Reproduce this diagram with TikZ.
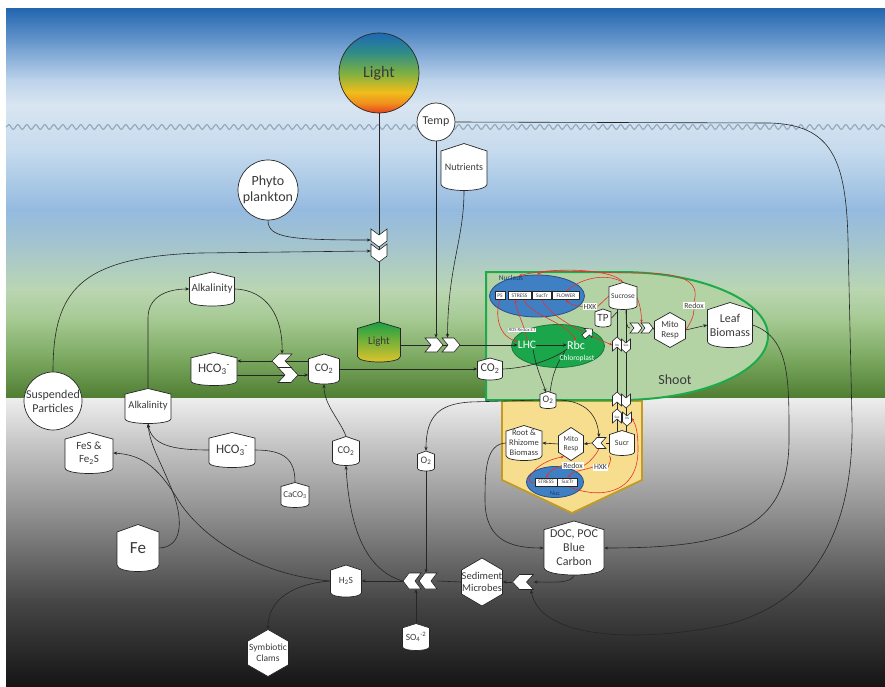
\documentclass[tikz,border=0pt]{standalone}
\usepackage{fontspec}
\setmainfont{Carlito}
\usetikzlibrary{arrows.meta,calc,decorations.pathmorphing,shapes.geometric}
\pgfdeclarelayer{bg}
\pgfdeclarelayer{lines}
\pgfsetlayers{bg,lines,main}
\definecolor{txt}{HTML}{3A3A3A}
\definecolor{edge}{HTML}{262626}
\definecolor{redl}{HTML}{E8302A}
\definecolor{wave}{HTML}{8FA7BC}
\definecolor{shootfill}{HTML}{B3D3A5}
\definecolor{shootline}{HTML}{1DAA4C}
\definecolor{rootfill}{HTML}{F7DE8E}
\definecolor{rootline}{HTML}{C39A24}
\definecolor{nucfill}{HTML}{3F80C4}
\definecolor{nucline}{HTML}{2A4E86}
\definecolor{nuctext}{HTML}{1E3C72}
\definecolor{chlfill}{HTML}{1BA64B}
\definecolor{chlline}{HTML}{147A37}
\definecolor{lhtop}{HTML}{1B9F45}
\definecolor{lhbot}{HTML}{E6C62A}
\definecolor{sr}{HTML}{E4401C}
\definecolor{so}{HTML}{F08E1E}
\definecolor{sy}{HTML}{F0BE1C}
\definecolor{sg}{HTML}{7DB042}
\definecolor{st}{HTML}{2F8C86}
\definecolor{sb}{HTML}{1D69B4}
\definecolor{w0}{HTML}{2366B0}
\definecolor{w1}{HTML}{6E9CCF}
\definecolor{w2}{HTML}{BCD3EA}
\definecolor{w3}{HTML}{D9E5F1}
\definecolor{w4}{HTML}{C6DBEE}
\definecolor{w5}{HTML}{94BADF}
\definecolor{w6}{HTML}{A6C6CC}
\definecolor{w7}{HTML}{BAD6B2}
\definecolor{w8}{HTML}{A5C992}
\definecolor{w9}{HTML}{79A75E}
\definecolor{w10}{HTML}{4D7C31}
\definecolor{s0}{HTML}{EDEDED}
\definecolor{s1}{HTML}{C9C9C9}
\definecolor{s2}{HTML}{8A8A8A}
\definecolor{s3}{HTML}{474747}
\definecolor{s4}{HTML}{141414}
\pgfdeclareverticalshading{sunshade}{100bp}{color(0bp)=(sr); color(25bp)=(sr); color(31bp)=(so); color(38bp)=(sy); color(50bp)=(sg); color(63bp)=(st); color(75bp)=(sb); color(100bp)=(sb)}
\newcommand\fs[1]{\fontsize{#1}{#1}\selectfont\baselineskip=1.17\baselineskip}
\newcommand\hsnode[8][]{%
  \begin{scope}[shift={(#3,#4)}]
    \pgfmathsetmacro\shW{#5/2}\pgfmathsetmacro\shH{#6/2}%
    \pgfmathsetmacro\shR{0.16*#6}\pgfmathsetmacro\shB{0.14*#6}%
    \path[shp,#1] (-\shW,{-\shH+\shR}) -- (0,-\shH) -- (\shW,{-\shH+\shR}) -- (\shW,{\shH-\shB})
      .. controls (\shW,{\shH+\shB/3}) and (-\shW,{\shH+\shB/3}) .. (-\shW,{\shH-\shB}) -- cycle;
  \end{scope}
  \node[lbl,minimum width=#5,minimum height=#6,font=\fs{#7}] (#2) at (#3,#4) {#8};}
\newcommand\hxnode[7]{%
  \begin{scope}[shift={(#2,#3)}]
    \pgfmathsetmacro\shW{#4/2}\pgfmathsetmacro\shH{#5/2}\pgfmathsetmacro\shQ{#5/4}%
    \path[shp] (0,-\shH) -- (\shW,-\shQ) -- (\shW,\shQ) -- (0,\shH) -- (-\shW,\shQ) -- (-\shW,-\shQ) -- cycle;
  \end{scope}
  \node[lbl,minimum width=#4,minimum height=#5,font=\fs{#6}] (#1) at (#2,#3) {#7};}
\newcommand\chv[6]{%
  \begin{scope}[shift={(#1,#2)},rotate=#5]
    \pgfmathsetmacro\cvL{#3/2}\pgfmathsetmacro\cvC{#4/2}%
    \path[shp,line width=0.6pt] (-\cvL,-\cvC) -- ({\cvL-#6},-\cvC) -- (\cvL,0) -- ({\cvL-#6},\cvC) -- (-\cvL,\cvC) -- ({-\cvL+#6},0) -- cycle;
  \end{scope}}
\begin{document}
\begin{tikzpicture}[x=1pt,y=-1pt,
  shp/.style={draw=edge,fill=white,line width=0.7pt},
  lbl/.style={inner sep=0pt,align=center,text=txt},
  inv/.style={inner sep=0pt,draw=none},
  ln/.style={draw=edge,line width=0.6pt},
  arr/.style={ln,-{Stealth[length=4pt,width=3.2pt]}},
  rln/.style={draw=redl,line width=0.6pt},
  rarr/.style={rln,-{Stealth[length=3.2pt,width=2.6pt]}},
  box/.style={draw=edge,fill=white,line width=0.4pt,inner sep=0pt,minimum height=8,text=txt,font=\fs{5.4}},
  tag/.style={fill=white,inner sep=1pt,text=txt},
  circ/.style={circle,draw=edge,fill=white,line width=0.7pt,inner sep=0pt,text=txt,align=center}]
\useasboundingbox (0,0) rectangle (885,687);
\begin{pgfonlayer}{bg}
\fill[white] (0,0) rectangle (885,687);
\foreach \ya/\yb/\ca/\cb in {9/45/w0/w1,45/80/w1/w2,80/105/w2/w3,105/150/w3/w4,150/210/w4/w5,210/250/w5/w6,250/290/w6/w7,290/320/w7/w8,320/360/w8/w9,360/399/w9/w10,399/440/s0/s1,440/520/s1/s2,520/600/s2/s3,600/687/s3/s4}
  \fill[top color=\ca,bottom color=\cb] (6,\ya-0.5) rectangle (885,\yb+0.5);
\draw[decorate,decoration={snake,amplitude=2.4pt,segment length=9pt},draw=wave,line width=1.1pt] (6,127) -- (885,127);
\path[fill=rootfill,draw=rootline,line width=1.8pt] (502,401) -- (642,401) -- (642,480) -- (572,513) -- (502,480) -- cycle;
\path[fill=shootfill,draw=shootline,line width=2pt] (486,272) -- (620,272) .. controls (701.7,272) and (768,300.7) .. (768,336) .. controls (768,371.3) and (701.7,400) .. (620,400) -- (486,400) -- cycle;
\node[ellipse,draw=nucline,fill=nucfill,line width=0.8pt,minimum width=95,minimum height=42] (nucS) at (537,296) {};
\node[ellipse,draw=chlline,fill=chlfill,line width=0.8pt,minimum width=93,minimum height=43] (chl) at (558,346) {};
\node[ellipse,draw=nucline,fill=nucfill,line width=0.8pt,minimum width=57,minimum height=31] (nucR) at (555,482) {};
\end{pgfonlayer}
% ---- sky and water column
\node[circ,shade,shading=sunshade,minimum size=80,font=\fs{16}] (Sun) at (379,73) {Light};
\node[circ,minimum size=38,font=\fs{12}] (T) at (436,122) {Temp};
\node[circ,minimum size=60,font=\fs{14}] (Ph) at (268,190) {Phyto\\plankton};
\node[circ,minimum size=58,font=\fs{12}] (SP) at (53,401) {Suspended\\Particles};
\hsnode{N}{464}{167}{46}{47}{10}{Nutrients}
\hsnode[top color=lhtop,bottom color=lhbot]{LH}{379}{342}{43}{40}{11}{Light}
\hsnode{AlkU}{212}{289}{45}{34}{11}{Alkalinity}
\hsnode{HCO3u}{214}{369}{46}{33}{13}{HCO\textsubscript{3}\textsuperscript{-}}
\hsnode{CO2m}{324}{369}{31}{30}{11.5}{CO\textsubscript{2}}
\hsnode{CO2s}{490}{369}{25}{22}{12}{CO\textsubscript{2}}
% chevrons
\chv{379}{238}{18}{16}{-90}{6}
\chv{379}{253}{18}{16}{-90}{6}
\node[inv,minimum width=16,minimum height=33] (chP) at (379,245.5) {};
\chv{434}{345}{18}{14}{0}{6}
\chv{451}{345}{18}{14}{0}{6}
\node[inv,minimum width=35,minimum height=14] (chL) at (442.5,345) {};
\chv{282}{361}{20}{14}{180}{7}
\node[inv,minimum width=20,minimum height=14] (cL) at (282,361) {};
\chv{288}{375}{20}{15}{0}{7}
\node[inv,minimum width=20,minimum height=15] (cR) at (288,375) {};
% ---- shoot
\node[lbl,text=white,font=\fs{11.5}] (LHC) at (527,345) {LHC};
\node[lbl,text=white,font=\fs{12}] (Rbc) at (576,345) {Rbc};
\node[lbl,text=white,font=\fs{7.5}] (chlbl) at (577,358) {Chloroplast};
\node[lbl,text=nuctext,font=\fs{7.5}] (nuclbl) at (511,278) {Nucleus};
\node[box,minimum width=10] (PSb) at (500,295.5) {PS};
\node[box,minimum width=23] (STb) at (519.5,295.5) {STRESS};
\node[box,minimum width=19] (SUb) at (542,295.5) {SucTr};
\node[box,minimum width=27] (FLb) at (566,295.5) {FLOWER};
\node[tag,font=\fs{4.8},inner sep=0.8pt] (ROS) at (522,330) {ROS Redox ET};
\hsnode{TP}{603}{318}{16}{18}{11}{TP}
\hsnode{Scr}{623}{296}{28}{27}{7.5}{Sucrose}
\node[tag,font=\fs{7.8}] (HXKs) at (590,306.5) {HXK};
\node[tag,font=\fs{7.8}] (RDs) at (694,305.5) {Redox};
\hxnode{MitoS}{670}{330}{31}{35}{9}{Mito\\Resp}
\hsnode{Leaf}{730}{325}{45}{45}{12}{Leaf\\Biomass}
\chv{636}{328}{12}{10}{0}{4}
\chv{647}{328}{12}{10}{0}{4}
\node[inv,minimum width=23,minimum height=10] (chS) at (641.5,328) {};
\begin{scope}[shift={(588,333)},rotate=40]
  \path[shp,line width=0.6pt] (-6,-2.5) -- (0,-2.5) -- (0,-6) -- (6,0) -- (0,6) -- (0,2.5) -- (-6,2.5) -- cycle;
\end{scope}
\node[lbl,font=\fs{14}] (shootlbl) at (675,380) {Shoot};
\hsnode{O2s}{548}{400}{16}{17}{10}{O\textsubscript{2}}
% sucrose transport markers
\chv{617}{344}{14}{9}{90}{4}
\node[inv,minimum width=9,minimum height=14,font=\fs{3.5},text=txt] (invS) at (617,345) {Inv};
\chv{626}{346}{14}{9}{-90}{4}
\node[inv,minimum width=9,minimum height=14,font=\fs{3.5},text=txt] (susS) at (626,345) {Sus};
\chv{617}{399}{14}{9}{90}{4}
\node[inv,minimum width=9,minimum height=14] (aU) at (617,399) {};
\chv{626}{401}{14}{9}{-90}{4}
\node[inv,minimum width=9,minimum height=14] (aD) at (626,401) {};
\chv{617}{416}{14}{9}{90}{4}
\node[inv,minimum width=9,minimum height=14,font=\fs{3.5},text=txt] (susR) at (617,417) {Sus};
\chv{627}{419}{14}{9}{-90}{4}
\node[inv,minimum width=9,minimum height=14,font=\fs{3.5},text=txt] (invR) at (627,418) {Inv};
% ---- root
\hsnode{Root}{524}{443}{36}{35}{8.5}{Root \&\\Rhizome\\Biomass}
\hxnode{MitoR}{571}{444}{25}{33}{7.5}{Mito\\Resp}
\chv{599}{443}{14}{11}{180}{5}
\node[inv,minimum width=14,minimum height=11] (chR) at (599,443) {};
\hsnode{Sucr}{622}{443}{25}{25}{8}{Sucr}
\node[tag,font=\fs{7.8}] (RDr) at (573,465.5) {Redox};
\node[tag,font=\fs{7.8}] (HXKr) at (600.5,467) {HXK};
\node[box,minimum width=22] (STr) at (546,482) {STRESS};
\node[box,minimum width=20] (SUr) at (567.5,482) {SucTr};
\node[lbl,text=nuctext,font=\fs{6.5}] (nuclblR) at (555,493) {Nuc};
% ---- sediment
\hsnode{DOC}{574}{548}{60}{54}{12}{DOC, POC\\Blue\\Carbon}
\hsnode{O2l}{426}{461}{17}{20}{10}{O\textsubscript{2}}
\hsnode{CO2l}{346}{451}{27}{29}{10.5}{CO\textsubscript{2}}
\hsnode{AlkL}{148}{406}{46}{35}{10.5}{Alkalinity}
\hsnode{HCO3l}{232}{450}{46}{35}{13}{HCO\textsubscript{3}\textsuperscript{-}}
\hsnode{CaCO3}{295}{495}{28}{25}{9}{CaCO\textsubscript{3}}
\hsnode{FeS}{89}{453}{48}{41}{11}{FeS \&\\Fe\textsubscript{2}S}
\hsnode{Fe}{138}{548}{42}{47}{17}{Fe}
\hsnode{H2S}{346}{581}{31}{32}{9.5}{H\textsubscript{2}S}
\hsnode{SO4}{416}{637}{27}{27}{9.5}{SO\textsubscript{4}\textsuperscript{-2}}
\hxnode{SM}{482}{582}{41}{48}{10.5}{Sediment\\Microbes}
\hxnode{SC}{268}{653}{41}{47}{9.5}{Symbiotic\\Clams}
\chv{523}{582}{21}{15}{180}{7}
\node[inv,minimum width=21,minimum height=15] (chSed) at (523,582) {};
\chv{412}{581}{18}{16}{180}{6}
\chv{428}{581}{18}{16}{180}{6}
\node[inv,minimum width=34,minimum height=16] (chB) at (420,581) {};
% ---- connectors
\begin{pgfonlayer}{lines}
\draw[ln] (Sun.south) -- (LH.north);
\draw[arr] (Ph.south) .. controls (268,238) and (290,240) .. ($(chP.west)+(0,-5.5)$);
\draw[arr] (SP.north) .. controls (53,290) and (80,257) .. (200,253) -- ($(chP.west)+(0,5.5)$);
\draw[arr] (T.south) -- (T.south |- chL.north);
\draw[arr] (N.south) .. controls (464,240) and (448,265) .. ($(chL.north)+(5,0)$);
\draw[arr] (LH.east |- chL.west) -- (LHC.west);
\draw[arr] (T.east) -- (770,123) .. controls (832,125) and (846,160) .. (848,240) -- (852,420) .. controls (854,520) and (820,605) .. (720,626) .. controls (640,642) and (540,640) .. ($(chSed.south)+(8,0)$);
\draw[arr] (AlkL.north) -- (148,318) .. controls (148,296) and (168,289) .. (AlkU.west);
\draw[arr] (AlkU.east) .. controls (268,290) and (283,318) .. (cL.north);
\draw[arr] (CO2m.west |- cL) -- (HCO3u.east |- cL);
\draw[arr] (HCO3u.east |- cR) -- (CO2m.west |- cR);
\draw[arr] (CO2m.east) -- (CO2s.west);
\draw[ln] (CO2s.east) .. controls (525,368) and (548,362) .. (Rbc.south west);
\draw[arr] (CO2l.north) .. controls (340,420) and (324,405) .. (CO2m.south);
\draw[arr] (LHC.east) -- (Rbc.west);
\draw[arr] ($(LHC.south)+(6,0)$) .. controls (536,368) and (542,380) .. ($(O2s.north)+(-2,1)$);
\draw[ln] ($(Rbc.south west)+(-2,2)$) .. controls (553,370) and (552,380) .. ($(O2s.north)+(2,1)$);
\draw[ln] ($(Scr.center)+(-6,0)$) -- ($(Sucr.center)+(-5,0)$);
\draw[ln] ($(Scr.center)+(3,0)$) -- ($(Sucr.center)+(4,0)$);
\draw[ln] ($(Scr.center)+(3,14)$) .. controls (626,324) and (627,328) .. (chS.west);
\draw[ln] (chS.east) -- (MitoS.west);
\draw[arr] (MitoS.east) -- (Leaf.west);
\draw[ln] (TP.east) .. controls (612,318) and (615,314) .. ($(Scr.center)+(-6,16)$);
\draw[arr] (Leaf.east) .. controls (790,338) and (789,380) .. (789,440) .. controls (789,530) and (730,548) .. (DOC.east);
\draw[arr] (O2s.west) -- (470,402) .. controls (440,404) and (426,415) .. (O2l.north);
\draw[arr] (O2s.east) .. controls (580,400) and (597,410) .. (chR.north);
\draw[ln] (Sucr.west) -- (chR.east);
\draw[arr] (chR.west) -- (MitoR.east);
\draw[arr] (MitoR.west) -- (Root.east);
\draw[arr] (Root.west) .. controls (486,444) and (485,470) .. (485,500) .. controls (485,540) and (510,548) .. (DOC.west);
\draw[arr] (DOC.south) .. controls (572,584) and (550,582) .. (chSed.east);
\draw[arr] (chSed.west) -- (SM.east);
\draw[ln] (SM.west) -- (chB.east);
\draw[arr] (chB.west) -- (H2S.east);
\draw[arr] (O2l.south) -- (O2l.south |- chB.north);
\draw[arr] (SO4.north) -- (SO4.north |- chB.south);
\draw[arr] (chB.west) .. controls (372,572) and (350,540) .. (CO2l.south);
\draw[arr] (H2S.west) .. controls (292,584) and (268,600) .. (SC.north);
\draw[arr] (H2S.west) .. controls (260,575) and (205,540) .. (180,503) .. controls (160,470) and (145,455) .. (FeS.east);
\draw[arr] (Fe.east) .. controls (185,547) and (182,515) .. (172,490) .. controls (160,460) and (150,445) .. (AlkL.south);
\draw[arr] (HCO3l.west) .. controls (172,450) and (152,445) .. (AlkL.south);
\draw[ln] (HCO3l.east) .. controls (285,450) and (295,460) .. (CaCO3.north);
% red regulation arrows (shoot)
\draw[rarr] (PSb.south) .. controls (494,316) and (500,338) .. (LHC.north west);
\draw[rarr] (LHC.north) .. controls (524,322) and (516,312) .. ($(STb.south)+(-4,0)$);
\draw[rarr] ($(STb.south)+(4,0)$) .. controls (532,316) and (566,322) .. (Rbc.north);
\draw[rarr] (SUb.south) .. controls (550,318) and (590,336) .. (invS.west);
\draw[rln] (Scr.west) -- (HXKs.east);
\draw[rarr] (HXKs.west) .. controls (575,306) and (569,304) .. (FLb.south);
\draw[rarr] (FLb.north) .. controls (590,270) and (641,268) .. (chS.north);
\draw[rln] (MitoS.east) .. controls (690,324) and (694,316) .. (RDs.south);
\draw[rarr] (RDs.north) .. controls (700,282) and (684,273) .. (640,273) .. controls (590,273) and (550,268) .. (nucS.north);
\draw[rarr] (Scr.north) .. controls (615,270) and (560,266) .. ($(nucS.north)+(-18,1)$);
% red regulation arrows (root)
\draw[rln] (Sucr.south west) .. controls (612,458) and (610,462) .. (HXKr.east);
\draw[rarr] (HXKr.west) .. controls (585,470) and (572,471) .. (SUr.north);
\draw[rln] (chR.south) .. controls (596,455) and (590,462) .. (RDr.east);
\draw[rarr] (RDr.west) .. controls (555,468) and (549,471) .. (STr.north);
\draw[rarr] (STr.west) .. controls (522,486) and (532,462) .. ($(MitoR.south)+(-7,-4)$);
\draw[rarr] (SUr.south) .. controls (600,500) and (638,494) .. (638,450) .. controls (638,432) and (636,425) .. (invR.east);
\end{pgfonlayer}
\end{tikzpicture}
\end{document}
